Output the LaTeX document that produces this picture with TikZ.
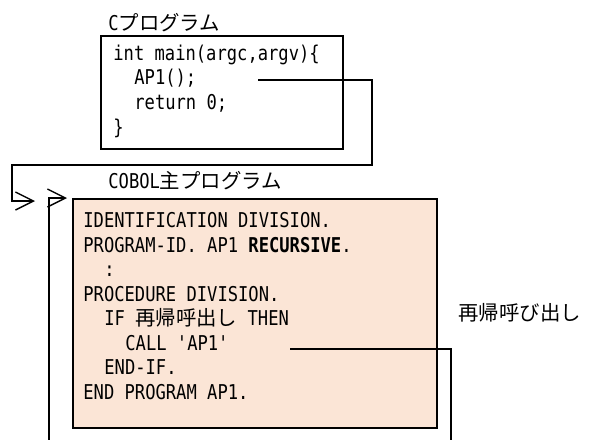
\documentclass[tikz,border=0pt]{standalone}
\usepackage{fontspec}
\newfontfamily\codefont[FakeStretch=0.84]{DejaVu Sans Mono}
\newfontfamily\jpfont{Noto Sans CJK JP}
\newcommand{\jtxt}[1]{{\jpfont\fontsize{10.2pt}{12pt}\selectfont #1}}
\usetikzlibrary{arrows.meta,calc}
\definecolor{cobolfill}{HTML}{FBE5D6}

\begin{document}
\begin{tikzpicture}[
    x=0.5pt, y=-0.5pt,
    >={Straight Barb[length=9pt,width=9pt]},
    box/.style={draw, line width=1pt, inner sep=0pt, anchor=north west},
    link/.style={line width=0.7pt},
    code/.style={anchor=base west, inner sep=0pt, font=\codefont\fontsize{10.2pt}{12pt}\selectfont}
  ]
  \useasboundingbox (0,0) rectangle (593,439);

  % Boxes
  \node[box, minimum width=121pt, minimum height=56.5pt] (cbox) at (100,35) {};
  \node[box, fill=cobolfill, minimum width=182pt, minimum height=114.5pt] (cobol) at (72,198) {};

  % Titles
  \node[code] (ctitle) at (108,30) {C\jtxt{プログラム}};
  \node[code] (cobtitle) at (108,188) {COBOL\jtxt{主プログラム}};
  \node[code] (recur) at (458,320) {\jtxt{再帰呼び出し}};

  % C program
  \foreach \ind/\txt [count=\i] in {0/{int main(argc,argv)\{}, 2/{AP1();}, 2/{return 0;}, 0/{\}}} {
    \node[code] (c\i) at (113+10.5*\ind, 35.2+24.8*\i) {\txt};
  }

  % COBOL program
  \foreach \ind/\txt [count=\i] in {0/{IDENTIFICATION DIVISION.}, 0/{PROGRAM-ID. AP1 \textbf{RECURSIVE}.},
      2/{:}, 0/{PROCEDURE DIVISION.}, 2/{IF \jtxt{再帰呼出し} THEN}, 4/{CALL 'AP1'},
      2/{END-IF.}, 0/{END PROGRAM AP1.}} {
    \node[code] (p\i) at (83+10.5*\ind, 203+24.5*\i) {\txt};
  }

  % Call from C
  \coordinate (ap1out) at (258,80);
  \coordinate (ret) at (35,201);
  \draw[link, ->] (ap1out) -- (372,80) |- (12,165) |- (ret);

  % Recursive call
  \coordinate (callout) at (290,349);
  \begin{scope}
    \clip (0,0) rectangle (593,439);
    \draw[link, ->, shorten >=2.5pt] (callout) -- (451,349) |- (49,470) |- (cobol.north west);
  \end{scope}
\end{tikzpicture}
\end{document}
